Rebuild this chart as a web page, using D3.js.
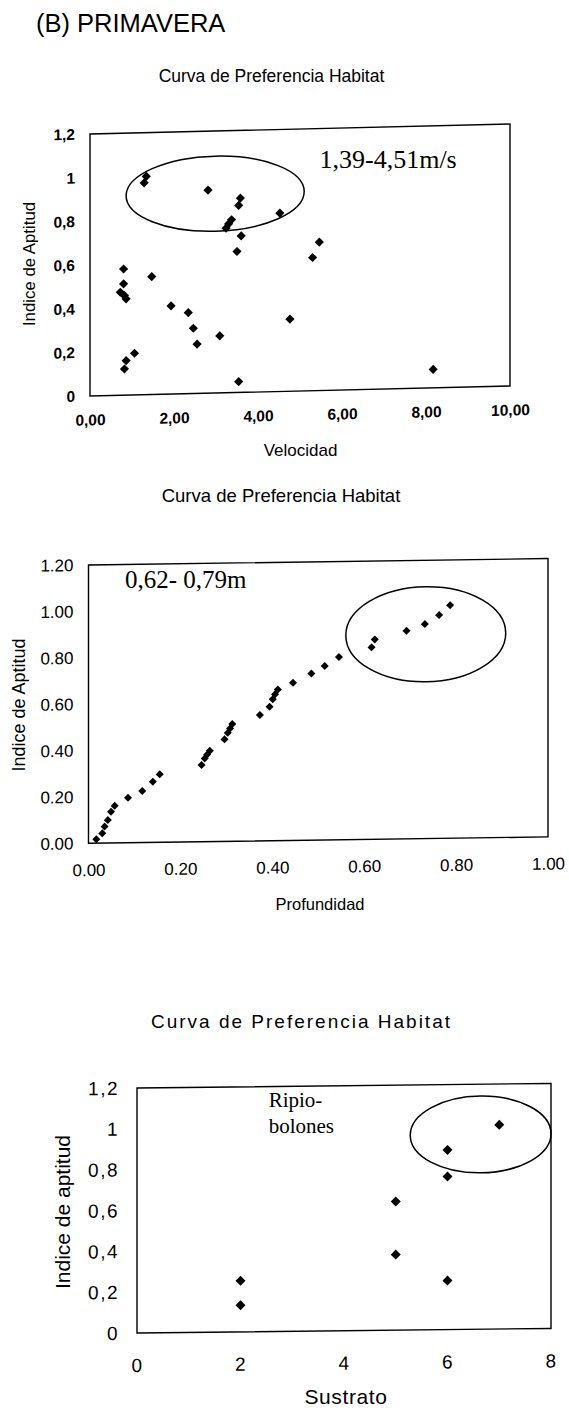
<!DOCTYPE html>
<html><head><meta charset="utf-8">
<script src="https://cdn.jsdelivr.net/npm/d3@7"></script>
<style>body{margin:0;background:#fff} svg{display:block}</style>
</head><body>
<svg id="c" width="569" height="1412"></svg>
<script>
// ---------- DATA ----------
// Chart 1: Velocidad vs Indice de Aptitud
const velX = [1.34,1.29,2.81,3.58,3.54,3.37,3.30,3.24,4.52,3.60,5.46,3.50,5.30,0.80,0.80,0.72,0.82,0.86,1.47,1.93,2.34,2.46,2.55,3.09,4.76,1.06,0.86,0.82,3.54,8.17];
const velY = [1.00,0.97,0.93,0.89,0.857,0.792,0.773,0.754,0.817,0.717,0.68,0.646,0.61,0.578,0.51,0.472,0.456,0.441,0.54,0.404,0.371,0.299,0.226,0.261,0.33,0.191,0.158,0.12,0.05,0.085];
const velXTicks = [0,2,4,6,8,10];
const velXLabels = ["0,00","2,00","4,00","6,00","8,00","10,00"];
const velYTicks = [0,0.2,0.4,0.6,0.8,1,1.2];
const velYLabels = ["0","0,2","0,4","0,6","0,8","1","1,2"];

// Chart 2: Profundidad vs Indice de Aptitud
const profX = [0.017,0.030,0.035,0.042,0.049,0.057,0.086,0.117,0.140,0.155,0.246,0.253,0.258,0.264,0.296,0.303,0.308,0.313,0.373,0.394,0.401,0.406,0.412,0.445,0.485,0.514,0.545,0.616,0.623,0.692,0.732,0.763,0.787];
const profY = [0.017,0.042,0.071,0.099,0.135,0.160,0.194,0.222,0.262,0.293,0.331,0.359,0.375,0.392,0.440,0.468,0.487,0.506,0.543,0.578,0.610,0.631,0.652,0.680,0.719,0.750,0.788,0.828,0.862,0.897,0.925,0.963,1.005];
const profXTicks = [0,0.2,0.4,0.6,0.8,1];
const profXLabels = ["0.00","0.20","0.40","0.60","0.80","1.00"];
const profYTicks = [0,0.2,0.4,0.6,0.8,1,1.2];
const profYLabels = ["0.00","0.20","0.40","0.60","0.80","1.00","1.20"];

// Chart 3: Sustrato vs Indice de aptitud
const sustX = [2,2,5,5,6,6,6,7];
const sustY = [0.25,0.13,0.63,0.37,0.88,0.75,0.24,1.0];
const sustXTicks = [0,2,4,6,8];
const sustXLabels = ["0","2","4","6","8"];
const sustYTicks = [0,0.2,0.4,0.6,0.8,1,1.2];
const sustYLabels = ["0","0,2","0,4","0,6","0,8","1","1,2"];

// Highlight ellipses (data units: cx, cy, rx, ry)
const velEllipse = [2.98, 0.913, 2.12, 0.172];
const profEllipse = [0.734, 0.881, 0.174, 0.205];
const sustEllipse = [6.64, 0.954, 1.36, 0.188];

// ---------- DRAW ----------
const SANS = '"Liberation Sans", Arial, Helvetica, sans-serif';
const SERIF = '"Liberation Serif", "Times New Roman", serif';
const svg = d3.select('#c');

svg.append('text').attr('x',36).attr('y',32)
  .style('font-family',SANS).style('font-size','25.5px').attr('fill','#000')
  .text('(B) PRIMAVERA');

function chart(cfg){
  const x = d3.scaleLinear().domain(cfg.xDomain).range(cfg.xRange);
  const y = d3.scaleLinear().domain(cfg.yDomain).range(cfg.yRange);
  const x0 = cfg.xRange[0], y0 = cfg.yRange[0];

  // title
  svg.append('text').attr('x',cfg.title.x).attr('y',cfg.title.y)
    .attr('text-anchor','middle')
    .style('font-family',SANS).style('font-size',cfg.title.size+'px')
    .style('letter-spacing',(cfg.title.ls||0)+'px')
    .text('Curva de Preferencia Habitat');

  const g = svg.append('g')
    .attr('transform',`translate(${x0},${y0}) skewY(${-cfg.skew}) translate(${-x0},${-y0})`);

  // frame
  g.append('rect')
    .attr('x',x(cfg.xDomain[0])).attr('y',y(cfg.yDomain[1]))
    .attr('width',x(cfg.xDomain[1])-x(cfg.xDomain[0]))
    .attr('height',y(cfg.yDomain[0])-y(cfg.yDomain[1]))
    .attr('fill','none').attr('stroke','#000').attr('stroke-width',1.4);

  // axes
  const xa = g.append('g').attr('transform',`translate(0,${y0})`)
    .call(d3.axisBottom(x).tickValues(cfg.xTicks)
      .tickFormat((d,i)=>cfg.xLabels[i]).tickSize(0).tickPadding(cfg.xPad));
  const ya = g.append('g').attr('transform',`translate(${x0},0)`)
    .call(d3.axisLeft(y).tickValues(cfg.yTicks)
      .tickFormat((d,i)=>cfg.yLabels[i]).tickSize(0).tickPadding(cfg.yPad));
  [xa,ya].forEach(a=>{
    a.select('.domain').remove();
    a.selectAll('text')
      .style('font-family',SANS).style('font-size',cfg.tickSize+'px')
      .style('font-weight',cfg.tickWeight||'normal')
      .style('letter-spacing',(cfg.tickLs||0)+'px')
      .attr('fill','#000');
  });

  // ellipse
  const e = cfg.ellipse;
  g.append('ellipse')
    .attr('cx',x(e[0])).attr('cy',y(e[1]))
    .attr('rx',x(e[2])-x(0)).attr('ry',y(0)-y(e[3]))
    .attr('fill','none').attr('stroke','#000').attr('stroke-width',1.5);

  // points
  const sym = d3.symbol().type(d3.symbolSquare).size(cfg.markerArea);
  g.selectAll('path.pt').data(cfg.xs.map((v,i)=>[v,cfg.ys[i]])).join('path')
    .attr('class','pt')
    .attr('transform',d=>`translate(${x(d[0])},${y(d[1])}) rotate(45)`)
    .attr('d',sym()).attr('fill','#000');

  // axis titles
  svg.append('text').attr('x',cfg.xTitle.x).attr('y',cfg.xTitle.y)
    .attr('text-anchor','middle')
    .style('font-family',SANS).style('font-size',cfg.xTitle.size+'px')
    .style('letter-spacing',(cfg.xTitle.ls||0)+'px')
    .text(cfg.xTitle.text);
  svg.append('text')
    .attr('transform',`translate(${cfg.yTitle.x},${cfg.yTitle.y}) rotate(-90)`)
    .attr('text-anchor','middle').attr('dy','0.36em')
    .style('font-family',SANS).style('font-size',cfg.yTitle.size+'px')
    .text(cfg.yTitle.text);

  // annotation
  cfg.note.lines.forEach((t,i)=>{
    svg.append('text').attr('x',cfg.note.x).attr('y',cfg.note.y + i*cfg.note.lh)
      .style('font-family',SERIF).style('font-size',cfg.note.size+'px')
      .text(t);
  });
}

chart({
  xDomain:[0,10], yDomain:[0,1.2], xRange:[90,510], yRange:[396,134], skew:1.36,
  xTicks:velXTicks, xLabels:velXLabels, yTicks:velYTicks, yLabels:velYLabels,
  xPad:18.5, yPad:15, tickSize:15.5, tickWeight:'bold',
  xs:velX, ys:velY, markerArea:42, ellipse:velEllipse,
  title:{x:271.5, y:81.7, size:17.5},
  xTitle:{x:300.5, y:456, size:17, text:'Velocidad'},
  yTitle:{x:29, y:264, size:16.8, text:'Indice de Aptitud'},
  note:{x:319.5, y:168, size:26, lh:0, lines:['1,39-4,51m/s']}
});

chart({
  xDomain:[0,1], yDomain:[0,1.2], xRange:[88.5,548], yRange:[843.3,565], skew:0.8,
  xTicks:profXTicks, xLabels:profXLabels, yTicks:profYTicks, yLabels:profYLabels,
  xPad:20.7, yPad:15, tickSize:17,
  xs:profX, ys:profY, markerArea:32, ellipse:profEllipse,
  title:{x:281, y:501.7, size:18.5},
  xTitle:{x:320, y:910, size:16.5, text:'Profundidad'},
  yTitle:{x:19, y:705, size:18, text:'Indice de Aptitud'},
  note:{x:125, y:588.3, size:25, lh:0, lines:['0,62- 0,79m']}
});

chart({
  xDomain:[0,8], yDomain:[0,1.2], xRange:[137,551], yRange:[1333,1088], skew:0.63,
  xTicks:sustXTicks, xLabels:sustXLabels, yTicks:sustYTicks, yLabels:sustYLabels,
  xPad:25.4, yPad:18, tickSize:19, tickLs:1.5,
  xs:sustX, ys:sustY, markerArea:50, ellipse:sustEllipse,
  title:{x:301.5, y:1028, size:19, ls:2},
  xTitle:{x:346, y:1404, size:21, ls:0.6, text:'Sustrato'},
  yTitle:{x:62.6, y:1212, size:21, text:'Indice de aptitud'},
  note:{x:268.7, y:1107, size:21, lh:26, lines:['Ripio-','bolones']}
});
</script>
</body></html>
